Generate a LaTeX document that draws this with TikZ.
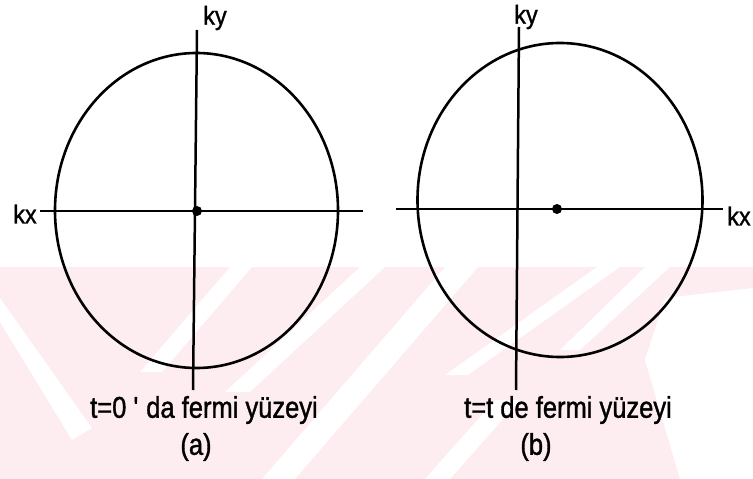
\documentclass[tikz,border=0pt]{standalone}
\usepackage{fontspec}
\setmainfont{Liberation Sans}
\newfontfamily\narrowfont[FakeStretch=0.85,FakeBold=1.2]{Liberation Sans}
\newfontfamily\labelfont[FakeStretch=0.9,FakeBold=1.2]{Liberation Sans}
\usetikzlibrary{positioning}
\definecolor{wmpink}{RGB}{253,236,240}

\begin{document}
\begin{tikzpicture}[
    x=1pt, y=-1pt,
    axis/.style={draw, line width=2.5pt},
    fermi/.style={draw, line width=2.6pt},
    origin/.style={circle, fill, inner sep=0pt, minimum size=10pt},
    klabel/.style={font=\labelfont\fontsize{26}{30}\selectfont, inner sep=0pt},
    caption/.style={font=\narrowfont\fontsize{30}{36}\selectfont, inner sep=0pt},
    stripe/.style={fill=white}
]
    \useasboundingbox (0,0) rectangle (753,479);

    % Watermark band
    \begin{scope}
        \clip (0,267) rectangle (753,479);
        \fill[wmpink] (0,267) rectangle (753,479);
        \fill[stripe] (0,298) -- (0,322) -- (72,440) -- (92,428) -- cycle;
        \fill[stripe] (140,372) -- (162,372) -- (252,267) -- (230,267) -- cycle;
        \fill[stripe] (225,392) -- (250,392) -- (385,267) -- (360,267) -- cycle;
        \fill[stripe] (262,479) -- (295,479) -- (478,267) -- (445,267) -- cycle;
        \fill[stripe] (425,479) -- (450,479) -- (520,400) -- (495,400) -- cycle;
        \fill[stripe] (445,375) -- (468,375) -- (620,267) -- (597,267) -- cycle;
        \fill[stripe] (645,267) -- (670,267) -- (580,350) -- (560,350) -- cycle;
        \fill[stripe] (665,298) -- (753,288) -- (753,479) -- (680,479) -- (645,360) -- cycle;
    \end{scope}

    % (a) Fermi surface at t=0
    \coordinate (a0) at (197,211);
    \coordinate (aytop) at (197,30);
    \coordinate (aybot) at (193,390);
    \coordinate (axl) at (40,211);
    \coordinate (axr) at (363,211);
    \draw[fermi] (196.5,210.5) ellipse [x radius=141.5, y radius=157.5];
    \draw[axis] (axl) -- (axr);
    \draw[axis] (aytop) -- (aybot);
    \node[origin] (adot) at (a0) {};
    \node[klabel] (akx) at (25,214) {kx};
    \node[klabel] (aky) at (215,18) {ky};
    \node[caption] (acap) at (204,410) {t=0 \textquotesingle\ da fermi yüzeyi};
    \node[caption] (alab) at (196,447) {(a)};

    % (b) Fermi surface at t=t
    \coordinate (b0) at (557,209);
    \coordinate (bytop) at (519,27);
    \coordinate (bybot) at (516,390);
    \coordinate (bxl) at (396,209);
    \coordinate (bxr) at (723,209);
    \draw[fermi] (560,200) ellipse [x radius=142.5, y radius=157];
    \draw[axis] (bxl) -- (bxr);
    \draw[axis] (bytop) -- (bybot);
    \node[origin] (bdot) at (b0) {};
    \node[klabel] (bkx) at (739,216) {kx};
    \node[klabel] (bky) at (526,17) {ky};
    \node[caption] (bcap) at (568,410) {t=t de fermi yüzeyi};
    \node[caption] (blab) at (536,447) {(b)};
\end{tikzpicture}
\end{document}
